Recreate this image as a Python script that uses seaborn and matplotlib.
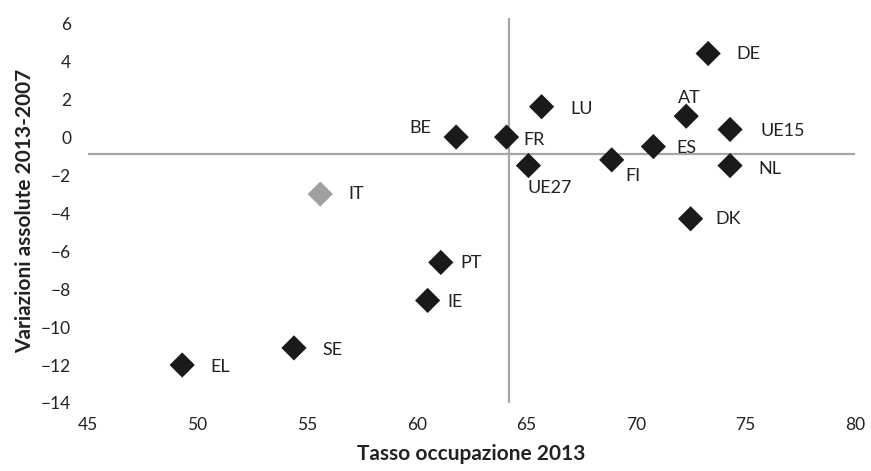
import pandas as pd
import matplotlib.pyplot as plt
import seaborn as sns

# Tasso occupazione 2013 vs variazione assoluta 2013-2007
paesi = ["DE", "LU", "AT", "UE15", "BE", "FR", "ES", "FI", "UE27", "NL",
         "DK", "IT", "PT", "IE", "SE", "EL"]
tasso_2013 = [73.3, 65.7, 72.3, 74.3, 61.8, 64.1, 70.8, 68.9, 65.1, 74.3,
              72.5, 55.6, 61.1, 60.5, 54.4, 49.3]
variazione = [4.4, 1.6, 1.1, 0.4, 0.0, 0.0, -0.5, -1.2, -1.5, -1.5,
              -4.3, -3.0, -6.6, -8.6, -11.1, -12.0]
# medie usate per gli assi incrociati
media_x = 64.2
media_y = -0.9

x_ticks = [45, 50, 55, 60, 65, 70, 75, 80]
y_ticks = [6, 4, 2, 0, -2, -4, -6, -8, -10, -12, -14]

# spostamento etichette in pixel (dx, dy, ha, va)
label_pos = {
    "DE": (28, 0, "left", "center"),
    "LU": (29, -2, "left", "center"),
    "AT": (3, 18, "center", "center"),
    "UE15": (30, -2, "left", "center"),
    "BE": (-25, 9, "right", "center"),
    "FR": (17, -3, "left", "center"),
    "ES": (23, -1, "left", "center"),
    "FI": (14, -16, "left", "center"),
    "UE27": (-1, -22, "left", "center"),
    "NL": (28, -3, "left", "center"),
    "DK": (25, 0, "left", "center"),
    "IT": (28, 0, "left", "center"),
    "PT": (20, -1, "left", "center"),
    "IE": (20, -2, "left", "center"),
    "SE": (28, -2, "left", "center"),
    "EL": (28, -2, "left", "center"),
}

df = pd.DataFrame({"paese": paesi, "x": tasso_2013, "y": variazione})
df["gruppo"] = ["Italia" if p == "IT" else "altri" for p in paesi]

sns.set_style("white")
plt.rcParams["font.family"] = ["Lato", "DejaVu Sans"]

fig = plt.figure(figsize=(8.71, 4.71), dpi=100)
ax = fig.add_axes([0.101, 0.1444, 0.8806, 0.8166])

line_col = "#a6a6a6"
ax.axhline(media_y, color=line_col, lw=1.6, zorder=1)
ax.axvline(media_x, color=line_col, lw=1.6, zorder=1)

sns.scatterplot(data=df, x="x", y="y", hue="gruppo",
                palette={"altri": "#1a1a1a", "Italia": "#a0a0a0"},
                marker="D", s=165, linewidth=0, legend=False, ax=ax, zorder=3)

for p, xv, yv in zip(paesi, tasso_2013, variazione):
    dx, dy, ha, va = label_pos[p]
    ax.annotate(p, (xv, yv), xytext=(dx, dy), textcoords="offset pixels",
                ha=ha, va=va, fontsize=13, color="#222222")

ax.set_xlim(45, 80)
ax.set_ylim(-14, 6.25)
ax.set_xticks(x_ticks)
ax.set_yticks(y_ticks)
ax.tick_params(axis="both", length=0, labelsize=12.5, colors="#222222")
ax.tick_params(axis="x", pad=10)
ax.tick_params(axis="y", pad=12)
for s in ax.spines.values():
    s.set_visible(False)

ax.set_xlabel("Tasso occupazione 2013", fontsize=15, fontweight="bold",
              color="#222222", labelpad=8)
ax.set_ylabel("Variazioni assolute 2013-2007", fontsize=15, fontweight="bold",
              color="#222222", labelpad=4)

fig.savefig("out.png", dpi=100)
